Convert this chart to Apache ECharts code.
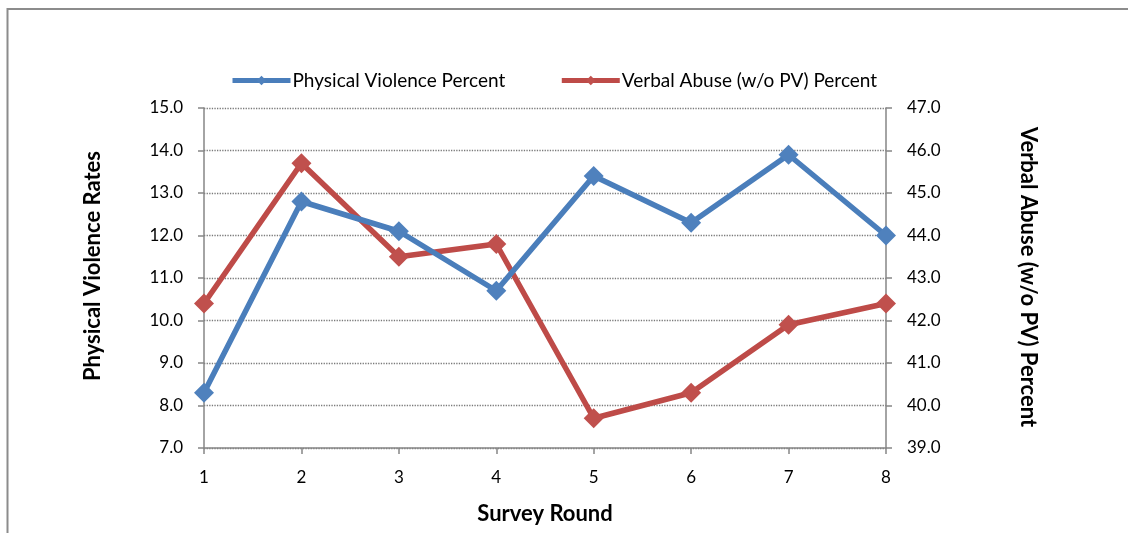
<!DOCTYPE html>
<html>
<head>
<meta charset="utf-8">
<style>
  html, body { margin: 0; padding: 0; background: #fff; }
  #chart { width: 1128px; height: 533px; }
</style>
<script src="https://cdn.jsdelivr.net/npm/echarts@6/dist/echarts.min.js"></script>
</head>
<body>
<div id="chart"></div>
<script>
// Survey rounds and the two measured series
const rounds = ['1', '2', '3', '4', '5', '6', '7', '8'];
const physicalViolence = [8.3, 12.8, 12.1, 10.7, 13.4, 12.3, 13.9, 12.0];
const verbalAbuse = [42.4, 45.7, 43.5, 43.8, 39.7, 40.3, 41.9, 42.4];

const seriesNames = ['Physical Violence Percent', 'Verbal Abuse (w/o PV) Percent'];
const leftAxisTitle = 'Physical Violence Rates';
const rightAxisTitle = 'Verbal Abuse (w/o PV) Percent';
const xAxisTitle = 'Survey Round';

const FONT = 'Lato, "Open Sans", sans-serif';
const AXIS_GRAY = '#868686';

const chart = echarts.init(document.getElementById('chart'), null, { renderer: 'canvas' });

const valueAxis = (min, max, position) => ({
  type: 'value',
  position: position,
  min: min,
  max: max,
  interval: 1,
  axisLine: { show: true, lineStyle: { color: AXIS_GRAY, width: 1.5 } },
  axisTick: { show: true, inside: false, length: 6, lineStyle: { color: AXIS_GRAY, width: 1.5 } },
  axisLabel: {
    color: '#000',
    fontFamily: FONT,
    fontSize: 17,
    margin: 21,
    formatter: v => v.toFixed(1)
  },
  splitLine: { show: position === 'left', lineStyle: { color: '#7a7a7a', type: 'dotted', width: 1.3 } }
});

chart.setOption({
  animation: false,
  backgroundColor: '#fff',
  grid: { left: 204, right: 242, top: 108, bottom: 85, containLabel: false },
  legend: {
    top: 66,
    left: 225,
    itemGap: 54,
    itemWidth: 58,
    itemHeight: 12,
    lineStyle: { width: 5 },
    textStyle: { color: '#000', fontFamily: FONT, fontSize: 19, padding: [0, 0, 0, -3] },
    data: seriesNames
  },
  xAxis: {
    type: 'category',
    data: rounds,
    boundaryGap: false,
    name: xAxisTitle,
    nameLocation: 'middle',
    nameGap: 55,
    nameTextStyle: { color: '#000', fontFamily: FONT, fontSize: 22, fontWeight: 'bold' },
    axisLine: { show: true, lineStyle: { color: AXIS_GRAY, width: 1.5 } },
    axisTick: { show: true, alignWithLabel: true, length: 6, lineStyle: { color: AXIS_GRAY, width: 1.5 } },
    axisLabel: { color: '#000', fontFamily: FONT, fontSize: 17, margin: 21 },
    splitLine: { show: false }
  },
  yAxis: [valueAxis(7, 15, 'left'), valueAxis(39, 47, 'right')],
  series: [
    {
      name: seriesNames[0],
      type: 'line',
      yAxisIndex: 0,
      data: physicalViolence,
      symbol: 'diamond',
      symbolSize: 20,
      lineStyle: { color: '#4A7EBB', width: 5.5 },
      itemStyle: { color: '#4F81BD' },
      z: 3
    },
    {
      name: seriesNames[1],
      type: 'line',
      yAxisIndex: 1,
      data: verbalAbuse,
      symbol: 'diamond',
      symbolSize: 20,
      lineStyle: { color: '#BE4B48', width: 5.5 },
      itemStyle: { color: '#C0504D' },
      z: 2
    }
  ],
  graphic: [
    {
      type: 'rect',
      shape: { x: 7.5, y: 9, width: 1300, height: 700 },
      style: { fill: 'none', stroke: '#8c8c8c', lineWidth: 2 },
      silent: true
    },
    {
      type: 'text',
      x: 93,
      y: 266,
      rotation: Math.PI / 2,
      style: {
        text: leftAxisTitle,
        fill: '#000',
        font: 'bold 22px ' + FONT,
        align: 'center',
        verticalAlign: 'middle'
      }
    },
    {
      type: 'text',
      x: 1028,
      y: 277,
      rotation: -Math.PI / 2,
      style: {
        text: rightAxisTitle,
        fill: '#000',
        font: 'bold 22px ' + FONT,
        align: 'center',
        verticalAlign: 'middle'
      }
    }
  ]
});
</script>
</body>
</html>
